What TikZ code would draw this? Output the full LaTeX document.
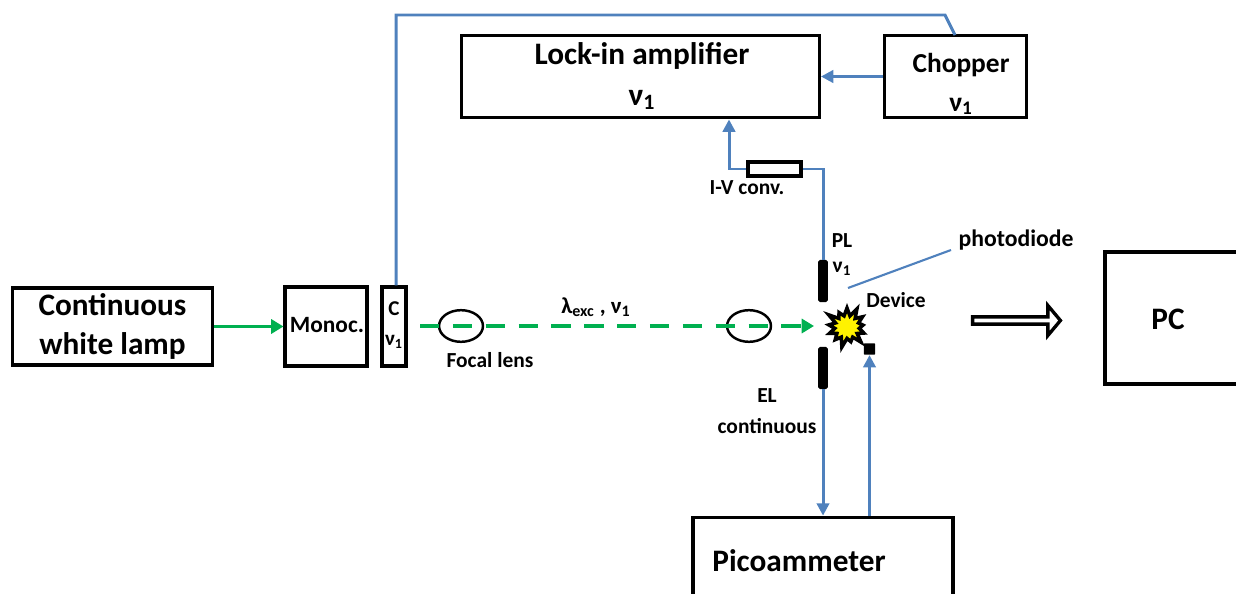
\documentclass[tikz,border=0pt]{standalone}
\usepackage{fontspec}
\setmainfont{Carlito}
\usetikzlibrary{arrows.meta,shapes.symbols,shapes.arrows,shapes.geometric}
\definecolor{linkblue}{RGB}{79,129,189}
\definecolor{beamgreen}{RGB}{0,176,80}
\newcommand{\nuone}{ν\textsubscript{1}}
\tikzset{
box/.style={draw=black,line width=1.9pt,minimum width=#1,inner sep=0pt,align=center,font=\bfseries},
label/.style={inner sep=0pt,align=center,font=\bfseries\fontsize{12.2}{17}\selectfont},
biglabel/.style={inner sep=0pt,align=center,font=\bfseries\fontsize{17.8}{22}\selectfont},
slit/.style={fill=black,rounded corners=1pt,minimum width=5.5pt,minimum height=24pt,inner sep=0pt},
lens/.style={draw=black,line width=1.4pt,ellipse,minimum width=25pt,minimum height=18pt,inner sep=0pt},
link/.style={draw=linkblue,line width=1.7pt},
linkarrow/.style={link,-{Triangle[length=7pt,width=7pt]}},
beam/.style={draw=beamgreen,line width=2.2pt,-{Triangle[length=7pt,width=8pt]}},
}
\begin{document}
\begin{tikzpicture}[x=0.02cm,y=-0.02cm]
\useasboundingbox (0,0) rectangle (1236,594);
\clip (0,0) rectangle (1236,594);
% boxes
\node[box=114pt,minimum height=44pt,biglabel] (lamp) at (112.5,326.5) {Continuous\\white lamp};
\node[box=46.5pt,minimum height=44.8pt] (monoc) at (326,326.5) {};
\node[label,font=\bfseries\fontsize{13.3}{16}\selectfont] (monoctext) at (327,325) {Monoc.};
\node[box=13.6pt,minimum height=44.8pt] (chop) at (394,326.5) {};
\node[label,font=\bfseries\fontsize{12}{17}\selectfont] (choptext) at (394,325) {C\\\nuone};
\node[box=203.5pt,minimum height=47pt] (lockin) at (640.5,76.5) {};
\node[biglabel,font=\bfseries\fontsize{17.8}{23.5}\selectfont] (lockintext) at (642,76) {Lock-in amplifier\\\nuone};
\node[box=81pt,minimum height=47pt] (chopper) at (955.5,76.5) {};
\node[label,font=\bfseries\fontsize{15.6}{22}\selectfont] (choppertext) at (961,84) {Chopper\\\nuone};
\node[box=30pt,minimum height=8pt] (conv) at (774.5,169) {};
\node[box=148pt,minimum height=60pt] (pico) at (823,570) {};
\node[biglabel] (picotext) at (799,561) {Picoammeter};
\node[box=90pt,minimum height=75pt] (pc) at (1184,318) {};
\node[biglabel] (pctext) at (1168,319) {PC};
% optics
\node[lens] (lensa) at (461,326) {};
\node[lens] (lensb) at (749,326) {};
\node[slit] (slitpl) at (823,281) {};
\node[slit] (slitel) at (823,368) {};
\node[starburst,draw=black,fill=yellow,line width=2pt,starburst points=13,starburst point height=6pt,minimum width=26pt,minimum height=25pt,inner sep=0pt] (device) at (847,327) {};
\node[fill=black,rounded corners=0.5pt,minimum size=6.5pt,inner sep=0pt] (contact) at (869.5,349) {};
% labels
\node[label] (lenstext) at (490,360) {Focal lens};
\node[label] (convtext) at (747,188) {I-V conv.};
\node[label] (pltext) at (842,241) {PL};
\node[label] (nutext) at (842,269) {\nuone};
\node[label] (devicetext) at (896,300) {Device};
\node[label,font=\bfseries\fontsize{13.5}{16}\selectfont] (diodetext) at (1016,240) {photodiode};
\node[label,font=\bfseries\fontsize{12.2}{18}\selectfont] (eltext) at (767,411) {EL\\continuous};
\node[label,font=\bfseries\fontsize{13}{16}\selectfont] (beamtext) at (596,307) {λ\textsubscript{exc} , \nuone};
\node[single arrow,draw=black,line width=1.9pt,fill=white,minimum width=17pt,minimum height=50pt,single arrow head extend=3pt,single arrow tip angle=100,inner sep=0pt] (output) at (1015,320.5) {};
% links
\coordinate (cornera) at (396,15);
\coordinate (cornerb) at (945,15);
\coordinate (chopin) at (955,35);
\coordinate (convleft) at (729,169);
\coordinate (convright) at (823,169);
\coordinate (diodeend) at (848,288);
\coordinate (diodestart) at (951,250);
\coordinate (beamstart) at (420,326);
\coordinate (beamend) at (814,326);
\draw[link] (chop.north -| cornera) -- (cornera) -- (cornerb) -- (chopin);
\draw[linkarrow] (chopper.west) -- (lockin.east);
\draw[link] (slitpl.north) -- (convright) -- (conv.east);
\draw[linkarrow] (conv.west) -- (convleft) -- (convleft |- lockin.south);
\draw[link,line width=1.2pt] (diodeend) -- (diodestart);
\draw[linkarrow] (slitel.south) -- (slitel.south |- pico.north);
\draw[linkarrow] (pico.north -| contact) -- (contact.south);
\draw[beam] (lamp.east) -- (monoc.west);
\draw[beam,dash pattern=on 11pt off 7.7pt] (beamstart) -- (beamend);
\end{tikzpicture}
\end{document}
